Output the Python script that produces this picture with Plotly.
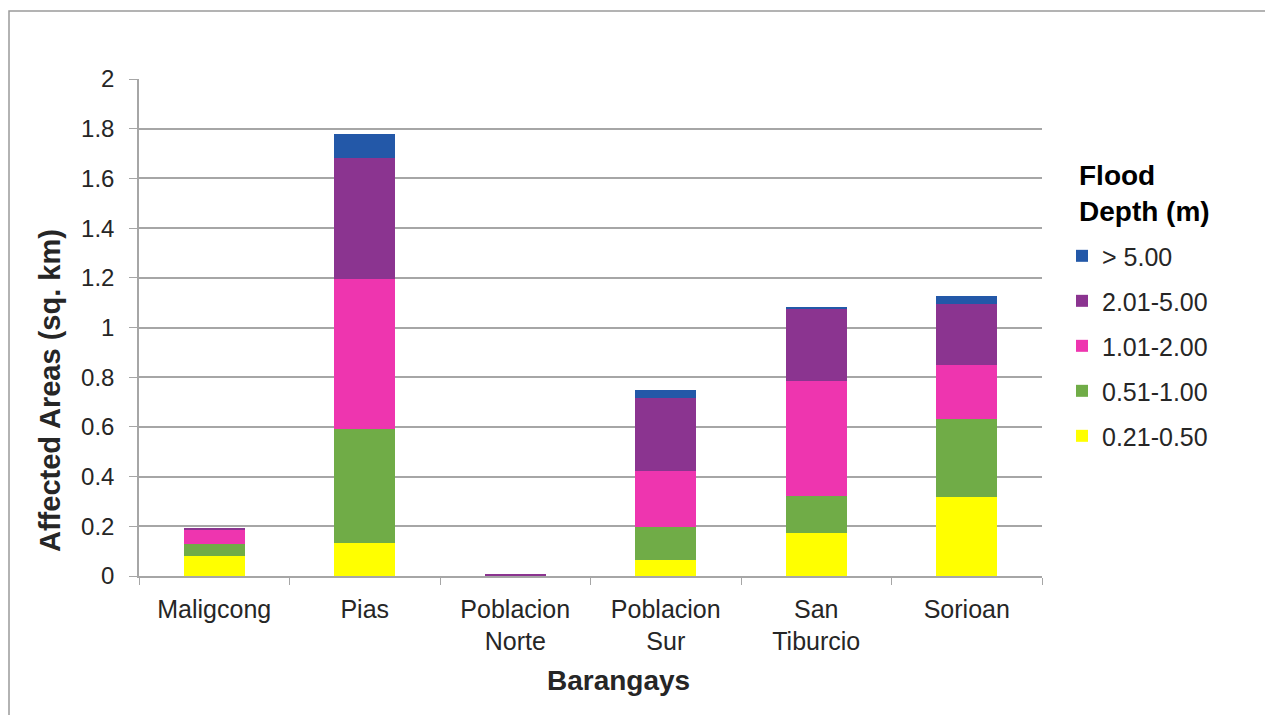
import plotly.graph_objects as go

# Barangays on the x axis (line breaks follow the axis labels)
barangays = ["Maligcong", "Pias", "Poblacion<br>Norte", "Poblacion<br>Sur",
             "San<br>Tiburcio", "Sorioan"]

# Affected areas (sq. km) per flood depth class
depth_021_050 = [0.080, 0.131, 0.000, 0.064, 0.172, 0.317]
depth_051_100 = [0.050, 0.459, 0.000, 0.134, 0.150, 0.315]
depth_101_200 = [0.057, 0.604, 0.000, 0.226, 0.463, 0.217]
depth_201_500 = [0.003, 0.489, 0.010, 0.291, 0.291, 0.244]
depth_over_500 = [0.000, 0.094, 0.000, 0.034, 0.008, 0.034]

series_names = ["0.21-0.50", "0.51-1.00", "1.01-2.00", "2.01-5.00", "> 5.00"]
series_values = [depth_021_050, depth_051_100, depth_101_200, depth_201_500, depth_over_500]
series_colors = ["#FFFF00", "#70AC47", "#EE35AF", "#8B3490", "#2358A8"]

y_tickvals = [0, 0.2, 0.4, 0.6, 0.8, 1.0, 1.2, 1.4, 1.6, 1.8, 2.0]
y_ticktext = ["0", "0.2", "0.4", "0.6", "0.8", "1", "1.2", "1.4", "1.6", "1.8", "2"]

FONT = "Liberation Sans, Arial, sans-serif"
TEXT = "#262626"
GRID = "#A6A6A6"

# plot area in pixels (used to place paper-relative annotations)
PX_L, PX_R, PX_T, PX_B = 139, 1042, 79, 576
PW, PH = PX_R - PX_L, PX_B - PX_T


def px_x(px):
    return (px - PX_L) / PW


def px_y(py):
    return (PX_B - py) / PH


fig = go.Figure()
for i, (name, vals, col) in enumerate(zip(series_names, series_values, series_colors)):
    fig.add_trace(go.Bar(
        x=barangays, y=vals, name=name,
        legendgroup=name, legendrank=100 - i,
        marker=dict(color=col, line=dict(width=0)),
    ))

fig.update_layout(
    template="none",
    width=1265, height=715,
    barmode="stack", bargap=0.595,
    paper_bgcolor="white", plot_bgcolor="white",
    margin=dict(l=PX_L, r=1265 - PX_R, t=PX_T, b=715 - PX_B, autoexpand=False),
    font=dict(family=FONT, size=24, color=TEXT),
    showlegend=True,
    legend=dict(
        x=px_x(1062), xanchor="left", y=0.69, yanchor="top",
        traceorder="grouped", tracegroupgap=9.5,
        font=dict(family=FONT, size=25, color=TEXT),
        bgcolor="rgba(0,0,0,0)",
    ),
    xaxis=dict(
        showgrid=False, showline=True, linecolor=GRID, linewidth=1.5,
        ticks="outside", tickson="boundaries", ticklen=7, tickcolor=GRID,
        ticklabelstandoff=10,
        tickfont=dict(family=FONT, size=25, color=TEXT),
        automargin=False,
    ),
    yaxis=dict(
        range=[0, 2], tickvals=y_tickvals, ticktext=y_ticktext,
        showgrid=True, gridcolor=GRID, gridwidth=1.5,
        showline=True, linecolor=GRID, linewidth=1.5, zeroline=False,
        ticks="outside", ticklen=8, tickcolor=GRID, ticklabelstandoff=10,
        tickfont=dict(family=FONT, size=24, color=TEXT),
        automargin=False,
    ),
    annotations=[
        dict(text="<b>Flood<br>Depth (m)</b>", xref="paper", yref="paper",
             x=px_x(1077), y=px_y(158), xanchor="left", yanchor="top",
             align="left", showarrow=False,
             font=dict(family=FONT, size=28, color="#000000")),
        dict(text="<b>Barangays</b>", xref="paper", yref="paper",
             x=px_x(618), y=px_y(680), xanchor="center", yanchor="middle",
             showarrow=False, font=dict(family=FONT, size=28, color=TEXT)),
        dict(text="<b>Affected Areas (sq. km)</b>", xref="paper", yref="paper",
             x=px_x(50), y=px_y(391), xanchor="center", yanchor="middle",
             textangle=-90, showarrow=False,
             font=dict(family=FONT, size=29, color=TEXT)),
    ],
    shapes=[dict(
        type="rect", xref="paper", yref="paper",
        x0=px_x(9), x1=px_x(1275), y0=px_y(725), y1=px_y(11),
        line=dict(color="#9A9A9A", width=1.5), fillcolor="rgba(0,0,0,0)",
        layer="below",
    )],
)

fig.write_html("out.html")
